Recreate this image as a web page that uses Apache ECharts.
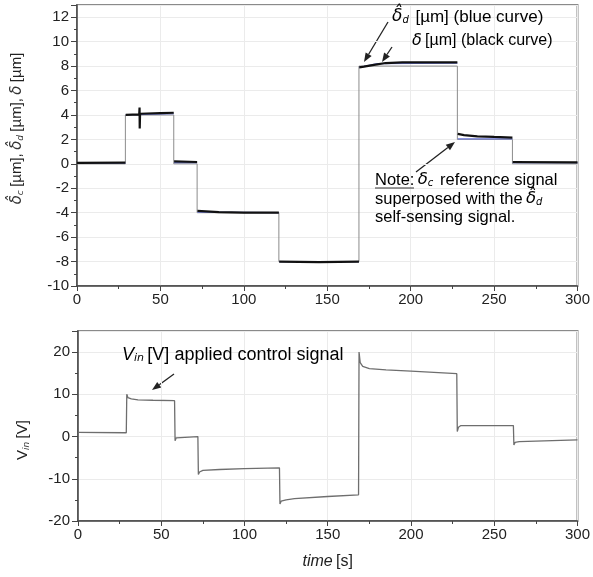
<!DOCTYPE html>
<html>
<head>
<meta charset="utf-8">
<script src="https://cdn.jsdelivr.net/npm/echarts@6/dist/echarts.min.js"></script>
<style>
  html, body { margin: 0; padding: 0; background: #fff; }
  #chart { width: 593px; height: 577px; }
</style>
</head>
<body>
<div id="chart"></div>
<script>
// top panel: reference step delta_c
const refTime = [0, 29, 29, 58, 58, 72, 72, 121, 121, 169, 169, 228, 228, 261, 261, 300];
const refValue = [0, 0, 4, 4, 0, 0, -4, -4, -8, -8, 8, 8, 2, 2, 0, 0];

// self-sensing estimate (blue), null = gap at the steps
const estTime = [0, 29, 29, 29.2, 58, 58, 58.2, 72, 72, 72.2, 121, 121, 121.2, 169, 169, 169.2, 180, 228, 228, 228.2, 261, 261, 261.2, 300];
const estValue = [0.05, 0.05, null, 4.0, 4.1, null, 0.1, 0.1, null, -3.95, -4.0, null, -8.0, -8.0, null, 7.9, 8.2, 8.25, null, 2.05, 2.05, null, 0.1, 0.1];

// measured delta (black)
const deltaTime = [0, 29, 29, 29.2, 37.3, 37.5, 37.6, 37.8, 50, 58, 58, 58.2, 72, 72, 72.2, 85, 100, 121, 121, 121.2, 145, 169, 169, 169.2, 172, 178, 185, 195, 228, 228, 228.2, 232, 240, 250, 261, 261, 261.2, 300];
const deltaValue = [0.08, 0.1, null, 4.0, 4.05, 4.6, 2.9, 4.1, 4.15, 4.18, null, 0.2, 0.15, null, -3.85, -3.95, -4.0, -4.0, null, -8.0, -8.05, -8.0, null, 7.9, 7.95, 8.1, 8.25, 8.3, 8.3, null, 2.45, 2.35, 2.25, 2.2, 2.15, null, 0.15, 0.12];

// bottom panel: control voltage
const vinTime = [0, 29, 29.3, 30, 32, 36, 45, 58, 58.3, 59, 60, 72, 72.3, 73, 75, 85, 100, 121, 121.3, 122, 125, 130, 150, 168.5, 168.8, 169.5, 171, 175, 185, 200, 227.5, 227.8, 228.5, 230, 261.5, 261.8, 262.5, 265, 280, 300];
const vinValue = [1.0, 0.9, 10.0, 9.2, 8.9, 8.7, 8.6, 8.5, -1.0, -0.3, 0.1, 0.0, -9.0, -8.4, -8.0, -7.8, -7.6, -7.4, -16.0, -15.3, -15.0, -14.7, -14.2, -13.8, 20.0, 17.5, 16.6, 16.1, 15.8, 15.5, 14.9, 1.2, 2.2, 2.6, 2.6, -2.0, -1.4, -1.2, -1.0, -0.8];

const pairs = (xs, ys) => xs.map((x, i) => [x, ys[i] === null ? '-' : ys[i]]);

const FONT = 'Arial, "Liberation Sans", sans-serif';
const GREEK = '"DejaVu Sans", sans-serif';

function arrow(x1, y1, x2, y2) {
  const a = Math.atan2(y2 - y1, x2 - x1);
  const len = 9, w = 3.5;
  const bx = x2 - len * Math.cos(a), by = y2 - len * Math.sin(a);
  const px = -Math.sin(a) * w, py = Math.cos(a) * w;
  return [
    { type: 'line', shape: { x1: x1, y1: y1, x2: bx, y2: by }, style: { stroke: '#222', lineWidth: 1.3 } },
    { type: 'polygon', shape: { points: [[x2, y2], [bx + px, by + py], [bx - px, by - py]] }, style: { fill: '#222' } }
  ];
}

function rich(size) {
  return {
    d: { fontFamily: GREEK, fontStyle: 'italic', fontSize: size, color: '#333' },
    s: { fontFamily: GREEK, fontStyle: 'italic', fontSize: Math.round(size * 0.6), color: '#333', padding: [7, 0, 0, 0] },
    t: { fontFamily: FONT, fontSize: size, color: '#222' },
    v: { fontFamily: FONT, fontStyle: 'italic', fontSize: size, color: '#222' },
    i: { fontFamily: FONT, fontStyle: 'italic', fontSize: size, color: '#222' }
  };
}

function note(x, y, text, size) {
  return { type: 'text', z: 10, style: { x: x, y: y, text: text, rich: rich(size), align: 'left', verticalAlign: 'middle' } };
}

function xAxisCfg(idx, withName) {
  return {
    gridIndex: idx, type: 'value', min: 0, max: 300, interval: 50,
    name: withName ? '{i|time} {t|[s]}' : '',
    nameLocation: 'middle', nameGap: 33,
    nameTextStyle: { rich: rich(16) },
    axisLine: { onZero: false, lineStyle: { color: '#444', width: 1.5 } },
    axisTick: { length: 5, lineStyle: { color: '#444' } },
    minorTick: { show: true, splitNumber: 2, length: 3, lineStyle: { color: '#444' } },
    axisLabel: { fontFamily: FONT, fontSize: 15, color: '#222', margin: 6 },
    splitLine: { show: true, lineStyle: { color: '#ebebeb', width: 1 } }
  };
}

function yAxisCfg(idx, min, max, interval, name, gap, pad) {
  return {
    gridIndex: idx, type: 'value', min: min, max: max, interval: interval,
    name: name, nameLocation: 'middle', nameGap: gap, nameRotate: 90,
    nameTextStyle: { rich: rich(15), padding: pad },
    axisLine: { lineStyle: { color: '#444', width: 1.5 } },
    axisTick: { length: 6, lineStyle: { color: '#444' } },
    minorTick: { show: true, splitNumber: 2, length: 3, lineStyle: { color: '#444' } },
    axisLabel: { fontFamily: FONT, fontSize: 15, color: '#222', margin: 8, showMaxLabel: false },
    splitLine: { show: true, lineStyle: { color: '#ebebeb', width: 1 } }
  };
}

const chart = echarts.init(document.getElementById('chart'));
chart.setOption({
  animation: false,
  backgroundColor: '#fff',
  grid: [
    { left: 77, top: 5, width: 503, height: 281, show: true, borderColor: '#8a8a8a', borderWidth: 2 },
    { left: 78, top: 331, width: 502, height: 190, show: true, borderColor: '#8a8a8a', borderWidth: 2 }
  ],
  xAxis: [xAxisCfg(0, false), xAxisCfg(1, true)],
  yAxis: [
    yAxisCfg(0, -10, 13, 2, '{d|δ̂}{s|c} {t|[µm],} {d|δ̂}{s|d} {t|[µm],} {d|δ} {t|[µm]}', 52, [0, 0, 0, 34]),
    yAxisCfg(1, -20, 25, 10, '{t|V}{s|in} {t|[V]}', 47, [0, 28, 0, 0])
  ],
  series: [
    {
      name: 'delta_c', type: 'line', xAxisIndex: 0, yAxisIndex: 0, symbol: 'none',
      data: pairs(refTime, refValue), lineStyle: { color: '#8c8c8c', width: 1 }, z: 2
    },
    {
      name: 'delta_d', type: 'line', xAxisIndex: 0, yAxisIndex: 0, symbol: 'none', connectNulls: false,
      data: pairs(estTime, estValue), lineStyle: { color: '#6d78d8', width: 1.2 }, z: 3
    },
    {
      name: 'delta', type: 'line', xAxisIndex: 0, yAxisIndex: 0, symbol: 'none', connectNulls: false,
      data: pairs(deltaTime, deltaValue), lineStyle: { color: '#111', width: 2.2 }, z: 4
    },
    {
      name: 'Vin', type: 'line', xAxisIndex: 1, yAxisIndex: 1, symbol: 'none',
      data: pairs(vinTime, vinValue), lineStyle: { color: '#6e6e6e', width: 1.3 }, z: 3
    }
  ],
  graphic: [
    note(392, 17, '{d|δ̂}{s|d}  {t|[µm] (blue curve)}', 17),
    note(412, 41, '{d|δ} {t|[µm] (black curve)}', 16),
    { type: 'group', children: arrow(388, 22, 364, 62) },
    { type: 'group', children: arrow(392, 47, 382, 62) },
    note(375, 180, '{t|Note:} {d|δ}{s|c}  {t|reference signal}', 16.5),
    { type: 'line', z: 10, shape: { x1: 375, y1: 188, x2: 414, y2: 188 }, style: { stroke: '#333', lineWidth: 1 } },
    note(375, 199, '{t|superposed with the} {d|δ̂}{s|d}', 16.5),
    note(375, 217, '{t|self-sensing signal.}', 16.5),
    { type: 'group', children: arrow(416, 172, 455, 142) },
    note(122, 355, '{v|V}{s|in} {t|[V] applied control signal}', 18),
    { type: 'group', children: arrow(174, 374, 152, 390) }
  ]
});
</script>
</body>
</html>
